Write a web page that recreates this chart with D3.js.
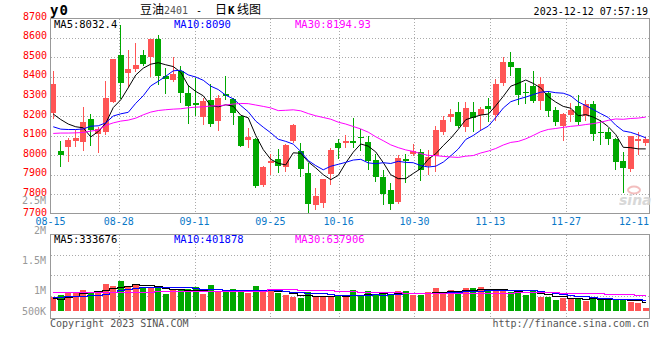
<!DOCTYPE html>
<html><head><meta charset="utf-8">
<script src="https://cdn.jsdelivr.net/npm/d3@7"></script>
<style>
html,body{margin:0;padding:0;background:#fff;}
svg{display:block;}
text{font-family:"DejaVu Sans Mono",monospace;font-size:10px;}
</style></head><body>
<svg id="c" width="660" height="360"></svg>
<script>
// ---------------- data ----------------
const dates = ["08-15","08-16","08-17","08-18","08-21","08-22","08-23","08-24","08-25","08-28","08-29","08-30","08-31",
"09-01","09-04","09-05","09-06","09-07","09-08","09-11","09-12","09-13","09-14","09-15","09-18","09-19","09-20","09-21","09-22","09-25","09-26","09-27","09-28",
"10-09","10-10","10-11","10-12","10-13","10-16","10-17","10-18","10-19","10-20","10-23","10-24","10-25","10-26","10-27","10-30","10-31",
"11-01","11-02","11-03","11-06","11-07","11-08","11-09","11-10","11-13","11-14","11-15","11-16","11-17","11-20","11-21","11-22","11-23","11-24","11-27","11-28","11-29","11-30",
"12-01","12-04","12-05","12-06","12-07","12-08","12-11","12-12"];
const opens = [8216,8021,8041,8072,8068,8184,8106,8116,8273,8511,
8421,8438,8511,8499,8591,8404,8383,8429,8319,8266,
8196,8281,8174,8314,8286,8199,8079,8085,7850,7959,
7983,7941,8074,8021,7908,7745,7755,7903,8063,8060,
8072,8092,8067,7975,7888,7822,7762,7980,8005,8017,
7946,7997,8119,8196,8218,8145,8218,8205,8251,8205,
8366,8474,8446,8325,8353,8276,8319,8230,8150,8205,
8251,8200,8261,8118,8118,8082,7971,7932,8072,8060];
const highs = [8429,8072,8089,8131,8247,8210,8145,8378,8489,8664,
8537,8571,8537,8595,8613,8443,8499,8455,8358,8392,
8293,8363,8307,8404,8290,8199,8137,8090,7946,8004,
8034,8055,8157,8063,7959,7833,7881,8038,8082,8102,
8188,8133,8097,8004,7924,7856,8000,8007,8055,8034,
8026,8148,8200,8234,8269,8269,8269,8244,8290,8388,
8499,8525,8446,8370,8429,8400,8327,8247,8217,8264,
8307,8281,8276,8179,8137,8089,8017,8099,8116,8094];
const lows = [8188,7946,7971,8048,8026,8051,8014,8109,8269,8290,
8349,8429,8460,8404,8363,8319,8380,8273,8165,8205,
8160,8148,8128,8286,8159,8045,8040,7839,7844,7902,
7912,7920,8068,7893,7706,7725,7738,7852,7987,8040,
8043,8026,7929,7869,7753,7728,7757,7864,8000,7876,
7902,7920,8106,8174,8145,8125,8125,8128,8174,8179,
8358,8409,8259,8264,8273,8235,8201,8154,8077,8174,
8159,8182,8077,8057,8057,7929,7813,7920,8004,8051];
const closes = [8363,8000,8080,8087,8169,8131,8136,8290,8489,8366,
8440,8460,8465,8591,8404,8387,8414,8319,8251,8256,
8276,8159,8293,8303,8217,8048,8092,7844,7941,7970,
7946,8051,8153,7929,7752,7791,7878,8026,8038,8072,
8063,8087,7971,7890,7801,7752,7988,7971,8022,7924,
7992,8128,8179,8210,8150,8239,8191,8234,8235,8363,
8477,8451,8307,8320,8276,8361,8227,8171,8210,8230,
8167,8259,8106,8113,8082,7966,7934,8097,8082,8082];
// volume in thousands (lots)
const volumes = [537,637,779,779,853,779,823,1113,1026,1243,
1026,1070,996,996,970,680,896,853,883,996,
680,1070,779,779,896,823,736,1026,823,823,
710,637,563,494,779,593,593,593,593,593,
853,593,810,637,710,637,810,810,637,637,
779,940,736,853,779,940,940,996,853,853,
810,779,810,637,810,563,563,420,520,494,
520,390,537,463,463,463,463,346,303,87];
// moving-average values before enough in-window history exists
const ma5Lead  = [8210,8182,8159,8145];
const ma10Lead = [8145,8133,8131,8131,8134,8148,8150,8165,8200];
const ma30Lead = [8111,8113,8113,8114,8116,8123,8128,8152,8165,8174,8179,8189,8206,8220,8228,8232,8235,8237,8242,8245,8247,8251,8252,8256,8261,8264,8263,8256,8249];
const volMa5Lead  = [519,476,560,600];
const volMa10Lead = [571,571,580,593,600,636,650,700,760];
const volMa30Lead = [779,779,779,779,779,780,780,781,782,783,784,785,786,787,788,789,790,791,792,793,794,795,796,797,798,799,800,802,805];
const priceTicks = [8700,8600,8500,8400,8300,8200,8100,8000,7900,7800,7700];
const dateTicks = ["08-15","08-28","09-11","09-25","10-16","10-30","11-13","11-27","12-11"];
const volTickValues = [2500000,2000000,1500000,1000000,500000];
const volTickLabels = ["2.5M","2M","1.5M","1M","500K"];
const mainLegend = ["MA5:8032.4","MA10:8090","MA30:8194.93"];
const volLegend = ["MA5:333676","MA10:401878","MA30:637906"];
const timestamp = "2023-12-12 07:57:19";

// ---------------- drawing ----------------
const RED="#ff5555", GREEN="#00a800", GRID="#aaaaaa", FRAME="#999999";
const MA_COLORS=["#000000","#0000ff","#ff00ff"];
const svg=d3.select("#c");
const n=dates.length;
const xb=d3.scaleBand().domain(dates).range([49.5,649.5]);
const cx=i=>xb(dates[i])+xb.bandwidth()/2;
const gx=d3.scaleLinear().domain([0,n-1]).range([50.5,649.5]);
const y=d3.scaleLinear().domain([7700,8700]).range([214,18]);
const vy=d3.scaleLinear().domain([0,1000]).range([309.7,286.6]);
const vLabelY=d3.scaleLinear().domain([0,2500000]).range([350,200]);
const px=v=>Math.round(v)+0.5;

function maSeries(vals,p,lead){return vals.map((v,i)=> i<p-1 ? lead[i] : d3.mean(vals.slice(i-p+1,i+1)));}
const priceMA=[maSeries(closes,5,ma5Lead),maSeries(closes,10,ma10Lead),maSeries(closes,30,ma30Lead)];
const volMA=[maSeries(volumes,5,volMa5Lead),maSeries(volumes,10,volMa10Lead),maSeries(volumes,30,volMa30Lead)];

const defs=svg.append("defs");
defs.append("clipPath").attr("id","cm").append("rect").attr("x",51).attr("y",19).attr("width",598).attr("height",194);
defs.append("clipPath").attr("id","cv").append("rect").attr("x",51).attr("y",235).attr("width",598).attr("height",83);

// header
svg.append("text").attr("x",50).attr("y",15).attr("font-weight","bold").style("font-size","14px").attr("letter-spacing","1").text("y0");
const cjk='"Noto Sans CJK SC",sans-serif';
svg.append("text").attr("x",140).attr("y",13.5).style("font-family",cjk).style("font-size","12px").text("豆油");
svg.append("text").attr("x",164).attr("y",13.5).attr("fill","#555").text("2401");
svg.append("text").attr("x",196).attr("y",13.5).text("-");
svg.append("text").attr("x",215).attr("y",13.5).style("font-family",cjk).style("font-size","12px").text("日");
svg.append("text").attr("x",228).attr("y",13.5).attr("font-weight","bold").style("font-size","11px").text("K");
svg.append("text").attr("x",237).attr("y",13.5).style("font-family",cjk).style("font-size","12px").text("线图");
svg.append("text").attr("x",648).attr("y",15).attr("text-anchor","end").text(timestamp);

// ----- main panel -----
const gm=svg.append("g");
gm.selectAll("line.hg").data(priceTicks.slice(1,-1)).join("line")
  .attr("x1",51).attr("x2",649).attr("y1",d=>px(y(d))).attr("y2",d=>px(y(d)))
  .attr("stroke",GRID).attr("stroke-dasharray","1,2").attr("shape-rendering","crispEdges");
const tickIdx=dateTicks.map(d=>dates.indexOf(d));
const vgrid=tickIdx.filter(i=>i>0 && i<n-2);
gm.selectAll("line.vg").data(vgrid).join("line")
  .attr("x1",i=>px(gx(i))).attr("x2",i=>px(gx(i))).attr("y1",19).attr("y2",213)
  .attr("stroke",GRID).attr("stroke-dasharray","1,2").attr("shape-rendering","crispEdges");
gm.append("rect").attr("x",50.5).attr("y",18.5).attr("width",599).attr("height",195)
  .attr("fill","none").attr("stroke",FRAME).attr("shape-rendering","crispEdges");

// price labels
svg.selectAll("text.pl").data(priceTicks).join("text").attr("class","pl")
  .attr("x",47).attr("y",d=>y(d)+1.5).attr("text-anchor","end").attr("fill","#ff0000").text(d=>d);
// date labels
svg.selectAll("text.dl").data(tickIdx).join("text").attr("class","dl")
  .attr("x",i=>Math.min(gx(i),634)).attr("y",224.5).attr("text-anchor","middle").attr("fill","#0a78c8").text(i=>dates[i]);

// sina watermark
const wm=svg.append("g").attr("opacity",0.9);
wm.append("ellipse").attr("cx",634).attr("cy",190).attr("rx",6).attr("ry",3.5).attr("fill","none").attr("stroke","#f2b8b8").attr("stroke-width",2);
wm.append("text").attr("x",619).attr("y",205).style("font-family","'DejaVu Sans',sans-serif").style("font-size","14px")
  .attr("font-weight","bold").attr("font-style","italic").attr("fill","#d4d4d4").text("sina");

// candles
const cg=gm.append("g").attr("clip-path","url(#cm)");
const idx=d3.range(n);
const col=i=>closes[i]>=opens[i]?RED:GREEN;
cg.selectAll("line.w").data(idx).join("line")
  .attr("x1",i=>Math.floor(cx(i))+0.5).attr("x2",i=>Math.floor(cx(i))+0.5)
  .attr("y1",i=>Math.round(y(highs[i]))).attr("y2",i=>Math.round(y(lows[i]))+1)
  .attr("stroke",col).attr("shape-rendering","crispEdges");
cg.selectAll("rect.b").data(idx).join("rect")
  .attr("x",i=>Math.round(cx(i)-3)).attr("width",6)
  .attr("y",i=>Math.round(y(Math.max(opens[i],closes[i]))))
  .attr("height",i=>Math.max(1,Math.round(y(Math.min(opens[i],closes[i])))-Math.round(y(Math.max(opens[i],closes[i])))))
  .attr("fill",col).attr("shape-rendering","crispEdges");
// MA lines
const line=d3.line().x((d,i)=>cx(i)).y(d=>y(d));
priceMA.forEach((s,k)=>{
  cg.append("path").attr("d",line(s)).attr("fill","none").attr("stroke",MA_COLORS[k]).attr("stroke-width",1);
});
// legend
const legX=[54,174,295];
mainLegend.forEach((t,k)=>svg.append("text").attr("x",legX[k]).attr("y",27.5).attr("fill",MA_COLORS[k]).style("font-size","10.5px").text(t));

// ----- volume panel -----
const gv=svg.append("g");
gv.selectAll("line.vh").data([255.5,275.5,296.5]).join("line")
  .attr("x1",51).attr("x2",649).attr("y1",d=>d).attr("y2",d=>d)
  .attr("stroke",GRID).attr("stroke-dasharray","1,2").attr("shape-rendering","crispEdges");
gv.selectAll("line.vv").data(vgrid).join("line")
  .attr("x1",i=>px(gx(i))).attr("x2",i=>px(gx(i))).attr("y1",235).attr("y2",318)
  .attr("stroke",GRID).attr("stroke-dasharray","1,2").attr("shape-rendering","crispEdges");
gv.append("rect").attr("x",50.5).attr("y",234.5).attr("width",599).attr("height",84)
  .attr("fill","none").attr("stroke",FRAME).attr("shape-rendering","crispEdges");
const vg=gv.append("g").attr("clip-path","url(#cv)");
vg.selectAll("rect.v").data(idx).join("rect")
  .attr("x",i=>Math.round(cx(i)-3)).attr("width",6)
  .attr("y",i=>Math.round(vy(volumes[i])))
  .attr("height",i=>311-Math.round(vy(volumes[i])))
  .attr("fill",col).attr("shape-rendering","crispEdges");
const vline=d3.line().x((d,i)=>cx(i)).y(d=>Math.round(vy(d))+0.5).curve(d3.curveStep);
volMA.forEach((s,k)=>{
  vg.append("path").attr("d",vline(s)).attr("fill","none").attr("stroke",MA_COLORS[k]).attr("stroke-width",1).attr("shape-rendering","crispEdges");
});
volLegend.forEach((t,k)=>svg.append("text").attr("x",legX[k]).attr("y",242.5).attr("fill",MA_COLORS[k]).style("font-size","10.5px").text(t));
svg.selectAll("text.vl").data(volTickValues).join("text").attr("class","vl")
  .attr("x",46).attr("y",d=>Math.min(vLabelY(d),311)+4).attr("text-anchor","end").attr("fill","#999").text((d,i)=>volTickLabels[i]);

// footer
svg.append("text").attr("x",50).attr("y",327).attr("fill","#555").text("Copyright 2023 SINA.COM");
svg.append("text").attr("x",649).attr("y",327).attr("text-anchor","end").attr("fill","#555").text("http://finance.sina.com.cn");
</script>
</body></html>
